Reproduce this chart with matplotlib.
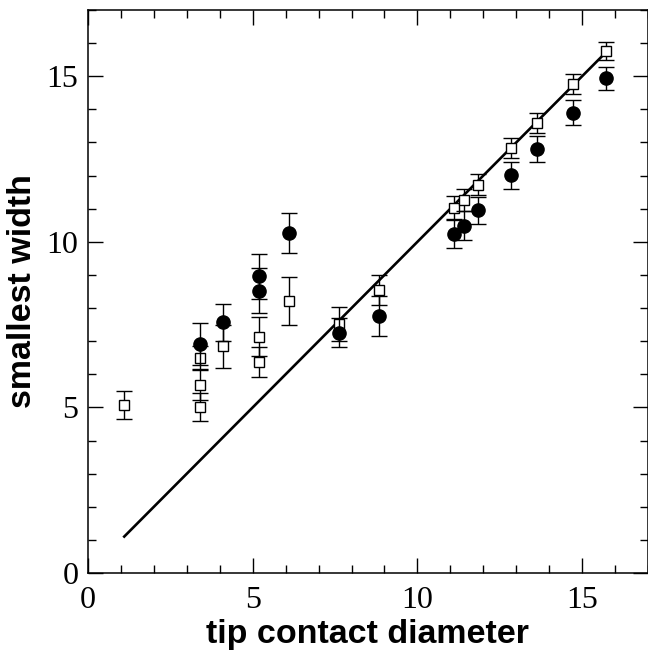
import matplotlib
matplotlib.use("Agg")
from matplotlib import pyplot as plt
from matplotlib.ticker import MultipleLocator

# open squares
sq_x = [1.08, 3.39, 3.39, 3.39, 4.1, 5.19, 5.19, 6.1, 7.62, 8.82,
        11.12, 11.42, 11.83, 12.84, 13.63, 14.73, 15.74]
sq_y = [5.07, 6.5, 5.68, 5.01, 6.84, 7.13, 6.37, 8.22, 7.52, 8.55,
        11.03, 11.25, 11.73, 12.84, 13.6, 14.76, 15.77]
sq_err = [0.43, 0.35, 0.45, 0.43, 0.64, 0.59, 0.45, 0.72, 0.52, 0.45,
          0.34, 0.33, 0.32, 0.3, 0.3, 0.3, 0.27]

# filled circles
ci_x = [3.39, 4.1, 5.19, 5.19, 6.1, 7.62, 8.82,
        11.12, 11.42, 11.83, 12.84, 13.63, 14.73, 15.74]
ci_y = [6.91, 7.57, 8.96, 8.53, 10.26, 7.26, 7.75,
        10.24, 10.49, 10.95, 12.01, 12.8, 13.9, 14.94]
ci_err = [0.63, 0.55, 0.68, 0.67, 0.6, 0.43, 0.6,
          0.43, 0.45, 0.4, 0.4, 0.4, 0.38, 0.35]

# guide line y = x
line_x = [1.1, 15.7]
line_y = [1.1, 15.7]

fig = plt.figure(figsize=(6.48, 6.52), dpi=100)
ax = fig.add_axes([88/648, 79/652, 560/648, 563/652])

ax.plot(line_x, line_y, color='black', lw=1.9, zorder=2)
ax.errorbar(sq_x, sq_y, yerr=sq_err, fmt='s', mfc='white', mec='black',
            mew=1.0, ms=7.5, ecolor='black', elinewidth=1.0, capsize=5.5,
            capthick=1.0, zorder=3)
ax.errorbar(ci_x, ci_y, yerr=ci_err, fmt='o', mfc='black', mec='black',
            ms=9.5, ecolor='black', elinewidth=1.0, capsize=5.5,
            capthick=1.0, zorder=4)

ax.set_xlim(0, 17)
ax.set_ylim(0, 17)
ax.xaxis.set_major_locator(MultipleLocator(5))
ax.yaxis.set_major_locator(MultipleLocator(5))
ax.xaxis.set_minor_locator(MultipleLocator(1))
ax.yaxis.set_minor_locator(MultipleLocator(1))
ax.tick_params(which='both', direction='in', top=True, right=True, width=1.0)
ax.tick_params(which='major', length=11)
ax.tick_params(axis='x', which='major', pad=9)
ax.tick_params(axis='y', which='major', pad=7)
ax.tick_params(which='minor', length=5.5)
for s in ax.spines.values():
    s.set_linewidth(1.1)

for lab in ax.get_xticklabels() + ax.get_yticklabels():
    lab.set_family('Liberation Serif')
    lab.set_fontsize(23)

ax.set_xlabel('tip contact diameter', fontsize=24.5, fontweight='bold',
              family='Liberation Sans', labelpad=3)
ax.set_ylabel('smallest width', fontsize=24.5, fontweight='bold',
              family='Liberation Sans', labelpad=6)

plt.savefig('out.png', dpi=100)
